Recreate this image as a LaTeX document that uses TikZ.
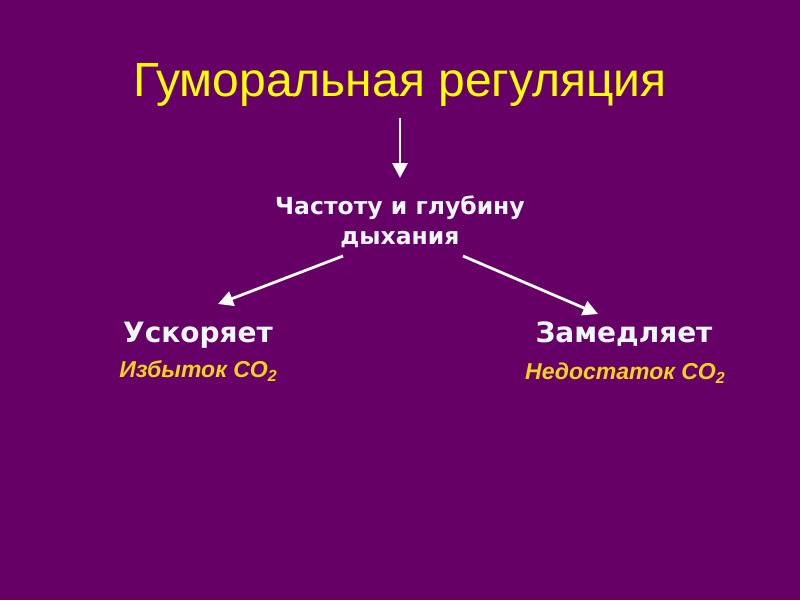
\documentclass[tikz,border=0pt]{standalone}
\usepackage{fontspec}
\setmainfont{Liberation Sans}
\newfontfamily\boldfam{DejaVu Sans}
\usetikzlibrary{arrows.meta}
\definecolor{bg}{HTML}{660066}
\definecolor{ttl}{HTML}{FFFF00}
\definecolor{wt}{HTML}{F0F6FF}
\definecolor{gold}{HTML}{F2D21A}
\tikzset{
  titletext/.style={text=ttl,font=\fontsize{48}{54}\selectfont,inner sep=0pt,anchor=base},
  midtext/.style={text=wt,font=\boldfam\bfseries\fontsize{23.5}{30}\selectfont,align=center,inner sep=0pt},
  headtext/.style={text=wt,font=\boldfam\bfseries\fontsize{28}{30}\selectfont,inner sep=0pt,anchor=base},
  subtext/.style={text=gold,font=\bfseries\itshape\fontsize{23}{26}\selectfont,inner sep=0pt,anchor=base},
  conn/.style={draw=white,line width=2.8pt,-{Triangle[open,fill=white,length=15pt,width=15pt]}},
}
\begin{document}
\begin{tikzpicture}[x=1pt,y=-1pt]
\fill[bg] (0,0) rectangle (800,600);
\useasboundingbox (0,0) rectangle (800,600);
\node[titletext] (title) at (400,96) {Гуморальная регуляция};
\coordinate (t1) at (400,118);
\node[midtext] (mid) at (400,222) {Частоту и глубину\\дыхания};
\coordinate (m1) at (400,178);
\coordinate (ml) at (343,256);
\coordinate (mr) at (463,256);
\node[headtext] (acc) at (198,342) {Ускоряет};
\node[subtext] (accs) at (198,377) {Избыток СО\raisebox{-0.4ex}{\fontsize{16}{16}\selectfont 2}};
\node[headtext] (dec) at (624,342) {Замедляет};
\node[subtext] (decs) at (625,379) {Недостаток СО\raisebox{-0.4ex}{\fontsize{16}{16}\selectfont 2}};
\coordinate (al) at (218,304);
\coordinate (ar) at (598,314);
\draw[conn] (t1) -- (m1);
\draw[conn] (ml) -- (al);
\draw[conn] (mr) -- (ar);
\end{tikzpicture}
\end{document}
